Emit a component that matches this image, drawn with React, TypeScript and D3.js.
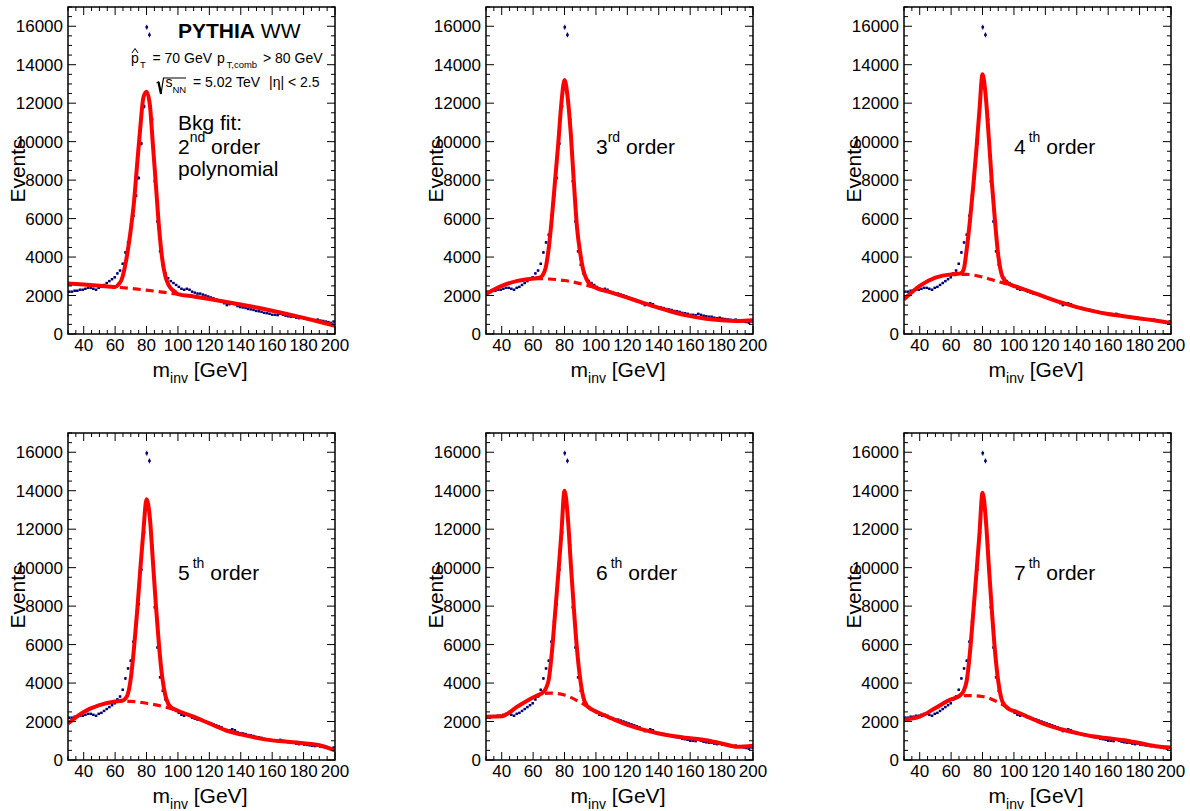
import React from 'react';
import * as d3 from 'd3';

// ---------------- data ----------------
// histogram: 100 bins of 1.7 GeV between 30 and 200 GeV
const binCenters: number[] = d3.range(100).map((i) => 30.85 + 1.7 * i);
const events: number[] = [
  2200, 2200, 2250, 2250, 2300, 2300, 2350, 2400, 2400, 2350,
  2300, 2400, 2450, 2550, 2650, 2750, 2850, 2950, 3150, 3300,
  3650, 4240, 4760, 5160, 6150, 7190, 8110, 9900, 11830, 15950,
  15550, 11160, 7940, 5850, 4300, 3600, 3150, 2900, 2750, 2650,
  2550, 2450, 2350, 2300, 2350, 2300, 2200, 2150, 2100, 2100,
  2050, 2000, 1950, 1900, 1850, 1800, 1750, 1700, 1600, 1500,
  1550, 1600, 1550, 1450, 1400, 1380, 1350, 1300, 1280, 1250,
  1200, 1180, 1150, 1100, 1080, 1050, 1000, 1000, 980, 1050,
  1000, 950, 920, 900, 900, 850, 820, 850, 800, 780,
  760, 740, 720, 750, 700, 680, 650, 620, 580, 650,
];

// background fit values at knots (GeV)
const bkgKnots = [30, 40, 50, 60, 70, 80, 90, 100, 110, 120, 130, 140, 150, 160, 170, 180, 190, 200];
const bkgFit2 = [2620, 2570, 2510, 2440, 2370, 2280, 2180, 2070, 1950, 1820, 1680, 1530, 1380, 1210, 1030, 840, 640, 430];
const bkgFit3 = [2080, 2500, 2760, 2880, 2860, 2780, 2620, 2400, 2150, 1890, 1620, 1360, 1120, 930, 790, 710, 680, 720];
const bkgFit4 = [1800, 2500, 2930, 3100, 3100, 2960, 2720, 2500, 2220, 1920, 1640, 1400, 1200, 1040, 920, 810, 700, 570];
const bkgFit5 = [1900, 2500, 2850, 3040, 3050, 2950, 2790, 2560, 2250, 1900, 1560, 1330, 1150, 1020, 950, 870, 770, 500];
const bkgFit6 = [2250, 2270, 2780, 3250, 3480, 3380, 3000, 2520, 2160, 1830, 1580, 1380, 1230, 1130, 1030, 860, 690, 740];
const bkgFit7 = [2100, 2250, 2700, 3150, 3350, 3300, 3000, 2550, 2200, 1850, 1600, 1400, 1230, 1130, 1030, 880, 720, 650];

// total (signal + background) fit values in the peak region
const peakKnots = [62, 64, 66, 68, 70, 72, 74, 76, 78, 80, 82, 84, 86, 88, 90, 92, 94, 96, 98];
const totalFit2 = [2560, 2800, 3400, 4300, 5450, 6850, 8800, 10700, 12300, 12600, 12000, 9900, 7700, 5500, 3900, 3000, 2550, 2330, 2200];
const totalFit3 = [2900, 2930, 3050, 3450, 4500, 6100, 8000, 9900, 12000, 13200, 12300, 10400, 7800, 5500, 4200, 3300, 2850, 2600, 2480];
const totalFit4 = [3110, 3130, 3150, 3350, 4450, 5900, 7600, 9500, 11600, 13500, 12400, 10200, 7800, 5800, 4100, 3150, 2800, 2650, 2560];
const totalFit5 = [3060, 3080, 3150, 3400, 4250, 5800, 7700, 9880, 11900, 13550, 12700, 10400, 8000, 5900, 4300, 3350, 2900, 2720, 2630];
const totalFit6 = [3330, 3400, 3500, 3700, 4200, 5650, 7630, 9650, 11800, 14000, 12700, 10200, 7800, 5700, 4200, 3250, 2850, 2700, 2600];
const totalFit7 = [3200, 3280, 3380, 3600, 4150, 5600, 7550, 9600, 11700, 13900, 12600, 10100, 7700, 5600, 4100, 3200, 2850, 2700, 2600];

const bkgFits = [bkgFit2, bkgFit3, bkgFit4, bkgFit5, bkgFit6, bkgFit7];
const totalFits = [totalFit2, totalFit3, totalFit4, totalFit5, totalFit6, totalFit7];

const orderNumbers = ['2', '3', '4', '5', '6', '7'];
const orderSuffixes = ['nd', 'rd', 'th', 'th', 'th', 'th'];

const xMajorTicks = [40, 60, 80, 100, 120, 140, 160, 180, 200];
const xTickLabels = ['40', '60', '80', '100', '120', '140', '160', '180', '200'];
const yMajorTicks = [0, 2000, 4000, 6000, 8000, 10000, 12000, 14000, 16000];
const yTickLabels = ['0', '2000', '4000', '6000', '8000', '10000', '12000', '14000', '16000'];

// ---------------- layout ----------------
const FONT = "'Liberation Sans', Arial, Helvetica, sans-serif";
const panelLefts = [68, 486, 904];
const panelTops = [7, 433];
const PW = 267;
const PH = 327;
const X_DOMAIN: [number, number] = [30, 200];
const Y_MAX = 17000;
const RED = '#ff0000';
const NAVY = '#00007a';

type Pt = [number, number];

function Panel({ i }: { i: number }) {
  const col = i % 3;
  const row = Math.floor(i / 3);
  const left = panelLefts[col];
  const top = panelTops[row];
  const right = left + PW;
  const bottom = top + PH;
  const x = d3.scaleLinear().domain(X_DOMAIN).range([left, right]);
  const y = d3.scaleLinear().domain([0, Y_MAX]).range([bottom, top]);

  const bkg = bkgFits[i];
  const tot = totalFits[i];
  const bkgPts: Pt[] = bkgKnots.map((k, j) => [k, bkg[j]]);
  const solidPts: Pt[] = [
    ...bkgPts.filter((d) => d[0] < peakKnots[0]),
    ...peakKnots.map((k, j) => [k, tot[j]] as Pt),
    ...bkgPts.filter((d) => d[0] > peakKnots[peakKnots.length - 1]),
  ];
  const line = d3
    .line<Pt>()
    .x((d) => x(d[0]))
    .y((d) => y(d[1]))
    .curve(d3.curveMonotoneX);

  const xMinor = d3.range(30, 200.01, 5).filter((t) => !xMajorTicks.includes(t));
  const yMinor = d3.range(0, Y_MAX + 0.01, 500).filter((t) => !yMajorTicks.includes(t));
  const ML = 8;
  const mL = 4;

  const clipId = `frameclip${i}`;
  const dashClipId = `dashclip${i}`;

  return (
    <g>
      <defs>
        <clipPath id={clipId}>
          <rect x={left} y={top} width={PW} height={PH} />
        </clipPath>
        <clipPath id={dashClipId}>
          <rect x={x(60)} y={top} width={x(100) - x(60)} height={PH} />
        </clipPath>
      </defs>

      {/* data points */}
      <g clipPath={`url(#${clipId})`}>
        {binCenters.map((c, j) => {
          const v = events[j];
          const e = Math.sqrt(v);
          return (
            <g key={j}>
              <line x1={x(c)} x2={x(c)} y1={y(v + e)} y2={y(v - e)} stroke={NAVY} strokeWidth={1} />
              <rect x={x(c) - 1.3} y={y(v) - 1.2} width={2.6} height={2.4} fill={NAVY} />
            </g>
          );
        })}
      </g>

      {/* background (dashed) */}
      <g clipPath={`url(#${dashClipId})`}>
        <path d={line(bkgPts) || ''} fill="none" stroke={RED} strokeWidth={3.2} strokeDasharray="8 5" />
      </g>
      {/* total fit */}
      <g clipPath={`url(#${clipId})`}>
        <path d={line(solidPts) || ''} fill="none" stroke={RED} strokeWidth={4} strokeLinejoin="round" />
      </g>

      {/* frame */}
      <rect x={left} y={top} width={PW} height={PH} fill="none" stroke="#000" strokeWidth={1.5} />

      {/* ticks */}
      <g stroke="#000" strokeWidth={1}>
        {xMajorTicks.map((t) => (
          <g key={`xM${t}`}>
            <line x1={x(t)} x2={x(t)} y1={bottom} y2={bottom - ML} />
            <line x1={x(t)} x2={x(t)} y1={top} y2={top + ML} />
          </g>
        ))}
        {xMinor.map((t) => (
          <g key={`xm${t}`}>
            <line x1={x(t)} x2={x(t)} y1={bottom} y2={bottom - mL} />
            <line x1={x(t)} x2={x(t)} y1={top} y2={top + mL} />
          </g>
        ))}
        {yMajorTicks.map((t) => (
          <g key={`yM${t}`}>
            <line x1={left} x2={left + ML} y1={y(t)} y2={y(t)} />
            <line x1={right} x2={right - ML} y1={y(t)} y2={y(t)} />
          </g>
        ))}
        {yMinor.map((t) => (
          <g key={`ym${t}`}>
            <line x1={left} x2={left + mL} y1={y(t)} y2={y(t)} />
            <line x1={right} x2={right - mL} y1={y(t)} y2={y(t)} />
          </g>
        ))}
      </g>

      {/* tick labels */}
      <g fontSize={17} fill="#000">
        {xMajorTicks.map((t, j) => (
          <text key={`xl${t}`} x={x(t)} y={bottom + 17} textAnchor="middle">
            {xTickLabels[j]}
          </text>
        ))}
        {yMajorTicks.map((t, j) => (
          <text key={`yl${t}`} x={left - 5} y={y(t) + 6} textAnchor="end">
            {yTickLabels[j]}
          </text>
        ))}
      </g>

      {/* axis titles */}
      <text x={left + 132} y={bottom + 43} textAnchor="middle" fontSize={21} style={{ whiteSpace: 'pre' }}>
        m
        <tspan fontSize={14} dy={6}>inv</tspan>
        <tspan dy={-6}>{' [GeV]'}</tspan>
      </text>
      <text
        transform={`translate(${left - 43},${top + PH / 2}) rotate(-90)`}
        textAnchor="middle"
        fontSize={21}
      >
        Events
      </text>

      {/* order label */}
      <text x={left + 110} y={top + 147} fontSize={21} style={{ whiteSpace: 'pre' }}>
        {orderNumbers[i]}
        <tspan fontSize={14} dy={-12} dx={i >= 2 ? 3 : 0}>{orderSuffixes[i]}</tspan>
        <tspan dy={12}>{' order'}</tspan>
      </text>
      {i === 0 && (
        <g fontSize={21}>
          <text x={left + 110} y={top + 123}>Bkg fit:</text>
          <text x={left + 110} y={top + 169}>polynomial</text>
        </g>
      )}
    </g>
  );
}

function InfoText() {
  const L = panelLefts[0];
  const T = panelTops[0];
  return (
    <g>
      <text x={L + 110} y={T + 31} fontSize={21} style={{ whiteSpace: 'pre' }}>
        <tspan fontWeight="bold">PYTHIA</tspan>
        <tspan>{' WW'}</tspan>
      </text>
      {/* line 2 */}
      <g fontSize={14}>
        <text x={L + 63} y={T + 56}>p</text>
        <path d={`M${L + 64},${T + 46} L${L + 67},${T + 41.5} L${L + 70},${T + 46}`} fill="none" stroke="#000" strokeWidth={1} />
        <text x={L + 72} y={T + 61} fontSize={9.5}>T</text>
        <text x={L + 84.5} y={T + 56} style={{ whiteSpace: 'pre' }}>{'= 70 GeV'}</text>
        <text x={L + 149} y={T + 56}>p</text>
        <text x={L + 158.5} y={T + 61} fontSize={9.5}>T,comb</text>
        <text x={L + 195} y={T + 56} style={{ whiteSpace: 'pre' }}>{'> 80 GeV'}</text>
      </g>
      {/* line 3 */}
      <g fontSize={14}>
        <path
          d={`M${L + 88.5},${T + 76} L${L + 90.5},${T + 75} L${L + 93},${T + 87} L${L + 95.5},${T + 71} L${L + 118},${T + 71}`}
          fill="none"
          stroke="#000"
          strokeWidth={1.2}
        />
        <path d={`M${L + 90.5},${T + 75} L${L + 93},${T + 87}`} stroke="#000" strokeWidth={2.2} />
        <text x={L + 97.5} y={T + 80}>s</text>
        <text x={L + 104.5} y={T + 86} fontSize={9.5}>NN</text>
        <text x={L + 125} y={T + 80} style={{ whiteSpace: 'pre' }}>{'= 5.02 TeV'}</text>
        <text x={L + 201} y={T + 80} style={{ whiteSpace: 'pre' }}>{'|η| < 2.5'}</text>
      </g>
    </g>
  );
}

export default function App() {
  return (
    <svg
      width={1190}
      height={811}
      style={{ position: 'absolute', left: 0, top: 0, background: '#fff' }}
      fontFamily={FONT}
    >
      <rect x={0} y={0} width={1190} height={811} fill="#fff" />
      {orderNumbers.map((_, i) => (
        <Panel key={i} i={i} />
      ))}
      <InfoText />
    </svg>
  );
}
